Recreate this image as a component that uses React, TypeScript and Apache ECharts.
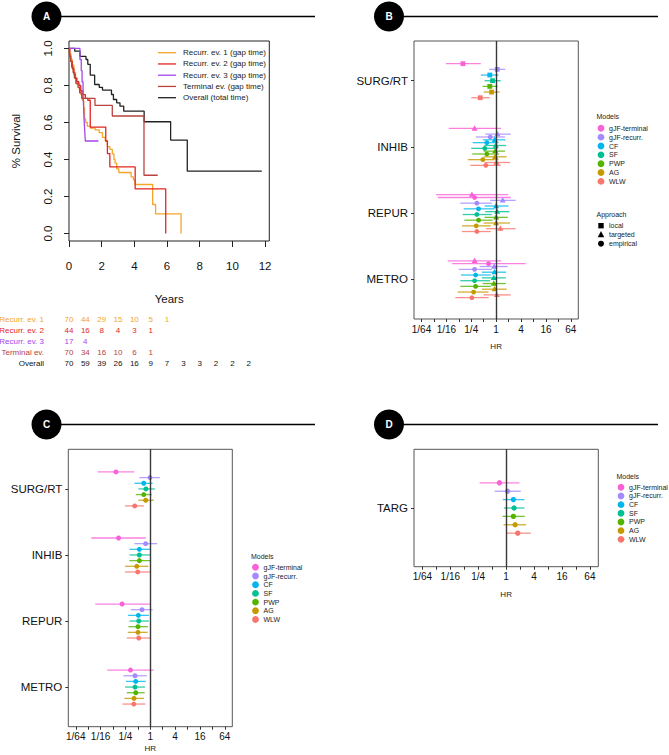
import React, { useEffect, useRef } from "react";
import * as echarts from "echarts";

const FONT = "'Liberation Sans', Arial, Helvetica, sans-serif";

// ---------- Panel A: Kaplan-Meier curves, [years, survival] ----------
const KM_RECURR1 = [[0,1],[0.05,0.97],[0.12,0.94],[0.2,0.91],[0.3,0.87],[0.4,0.84],[0.5,0.81],[0.62,0.78],[0.72,0.75],[0.82,0.72],[0.9,0.68],[0.95,0.62],[1.02,0.6],[1.12,0.58],[1.3,0.57],[1.6,0.56],[1.85,0.545],[2.05,0.52],[2.22,0.5],[2.35,0.47],[2.5,0.455],[2.65,0.43],[2.75,0.4],[2.82,0.38],[2.92,0.35],[3.05,0.33],[3.8,0.306],[3.94,0.29],[4.04,0.265],[5.12,0.157],[5.3,0.106],[6.86,0]];
const KM_RECURR2 = [[0,1],[0.05,0.955],[0.1,0.93],[0.2,0.89],[0.3,0.86],[0.38,0.84],[0.47,0.82],[0.6,0.8],[0.72,0.77],[0.85,0.75],[1.0,0.73],[1.15,0.72],[1.3,0.575],[2.25,0.5],[2.35,0.432],[2.5,0.36],[4.05,0.241],[5.92,0]];
const KM_RECURR3 = [[0,1],[0.67,0.94],[0.75,0.88],[0.8,0.82],[0.86,0.76],[0.89,0.69],[0.92,0.62],[0.96,0.56],[1.0,0.5],[1.8,0.5]];
const KM_TERMINAL = [[0,1],[0.04,0.96],[0.1,0.93],[0.16,0.9],[0.25,0.87],[0.33,0.84],[0.42,0.81],[0.55,0.79],[0.65,0.76],[0.78,0.73],[1.59,0.692],[2.65,0.635],[4.59,0.315],[5.43,0.315]];
const KM_OVERALL = [[0,1],[0.35,0.985],[0.67,0.957],[1.04,0.94],[1.15,0.914],[1.3,0.856],[1.57,0.805],[1.85,0.79],[2.05,0.775],[2.6,0.751],[2.72,0.724],[2.92,0.706],[3.12,0.688],[3.35,0.661],[4.6,0.604],[6.22,0.505],[7.24,0.337],[11.8,0.337]];
const KM_NAMES = ["Recurr. ev. 1 (gap time)", "Recurr. ev. 2 (gap time)", "Recurr. ev. 3 (gap time)", "Terminal ev. (gap time)", "Overall (total time)"];
const KM_COLORS = ["#F5A52A", "#E2261F", "#A646EA", "#B8433E", "#222222"];
const KM_X_TICKS = [0, 2, 4, 6, 8, 10, 12];
const KM_Y_TICKS = [0, 0.2, 0.4, 0.6, 0.8, 1.0];

// ---------- Numbers at risk ----------
const RISK_ROWS = ["Recurr. ev. 1", "Recurr. ev. 2", "Recurr. ev. 3", "Terminal ev.", "Overall"];
const RISK_RECURR1 = [70, 44, 29, 15, 10, 5, 1];
const RISK_RECURR2 = [44, 16, 8, 4, 3, 1];
const RISK_RECURR3 = [17, 4];
const RISK_TERMINAL = [70, 34, 16, 10, 6, 1];
const RISK_OVERALL = [70, 59, 39, 26, 16, 9, 7, 3, 3, 2, 2, 2];
const RISK_COLORS = ["#F5A52A", "#E2261F", "#A646EA", "#B8433E", "#111111"];

// ---------- Forest plots (HR, lower, upper) ----------
const MODELS = ["gJF-terminal", "gJF-recurr.", "CF", "SF", "PWP", "AG", "WLW"];
const MODEL_COLORS = ["#FB61D7", "#A58AFF", "#00B6EB", "#00C094", "#53B400", "#C49A00", "#F8766D"];
const APPROACHES = ["local", "targeted", "empirical"];
const HR_TICKS = [-6, -5, -4, -3, -2, -1, 0, 1, 2, 3, 4, 5, 6]; // log2 HR
const HR_LABEL_POS = [-6, -4, -2, 0, 2, 4, 6];
const HR_LABELS = ["1/64", "1/16", "1/4", "1", "4", "16", "64"];

const CATS_BC = ["SURG/RT", "INHIB", "REPUR", "METRO"];
const CATS_D = ["TARG"];

type CI = [number, number, number] | null;

const B_SURG_LOCAL: CI[] = [[0.157,0.061,0.426],[1.06,0.678,1.65],[0.702,0.426,1.14],[0.818,0.525,1.29],[0.702,0.47,1.09],[0.774,0.497,1.22],[0.412,0.25,0.693]];
const B_INHIB_TARGETED: CI[] = [[0.301,0.0713,1.32],[1.08,0.543,2.25],[0.927,0.476,1.68],[0.98,0.514,1.74],[0.946,0.497,1.65],[0.946,0.497,1.8],[1.02,0.525,2.17]];
const B_INHIB_EMPIRICAL: CI[] = [null,[0.717,0.323,1.65],[0.595,0.27,1.14],[0.532,0.25,1.09],[0.595,0.264,1.18],[0.476,0.207,1.14],[0.562,0.237,1.29]];
const B_REPUR_TARGETED: CI[] = [[0.259,0.0352,1.95],[1.44,0.717,2.97],[1.0,0.525,1.99],[1.06,0.543,2.1],[1.0,0.525,1.91],[1.0,0.497,2.17],[1.27,0.574,2.93]];
const B_REPUR_EMPIRICAL: CI[] = [[0.301,0.0387,2.25],[0.341,0.136,0.785],[0.376,0.164,0.914],[0.341,0.155,0.785],[0.376,0.17,0.818],[0.33,0.149,0.742],[0.341,0.149,0.742]];
const B_METRO_TARGETED: CI[] = [[0.301,0.0675,1.32],[0.895,0.398,1.91],[0.914,0.451,1.74],[0.877,0.451,1.71],[0.877,0.47,1.71],[0.914,0.451,1.8],[1.04,0.497,2.25]];
const B_METRO_EMPIRICAL: CI[] = [[0.655,0.0854,5.17],[0.301,0.124,0.785],[0.319,0.141,0.742],[0.301,0.136,0.717],[0.319,0.136,0.742],[0.285,0.117,0.655],[0.259,0.103,0.655]];

const C_SURG: CI[] = [[0.147,0.0529,0.412],[0.98,0.543,1.71],[0.693,0.412,1.14],[0.785,0.514,1.29],[0.693,0.444,1.08],[0.774,0.514,1.22],[0.42,0.245,0.702]];
const C_INHIB: CI[] = [[0.17,0.0372,0.774],[0.774,0.412,1.47],[0.543,0.312,0.98],[0.543,0.312,0.98],[0.543,0.312,1.0],[0.47,0.245,0.895],[0.497,0.245,1.0]];
const C_REPUR: CI[] = [[0.207,0.0464,0.98],[0.629,0.337,1.14],[0.514,0.289,0.927],[0.525,0.312,0.927],[0.503,0.295,0.877],[0.503,0.285,0.865],[0.525,0.27,1.0]];
const C_METRO: CI[] = [[0.33,0.0902,1.21],[0.426,0.224,0.818],[0.444,0.259,0.774],[0.426,0.245,0.742],[0.444,0.27,0.732],[0.403,0.237,0.702],[0.398,0.212,0.758]];

const D_TARG: CI[] = [[0.717,0.268,1.93],[1.07,0.563,2.07],[1.43,0.847,2.48],[1.48,0.889,2.48],[1.43,0.835,2.51],[1.56,0.877,2.69],[1.78,1.0,3.39]];

// category -> list of [approachIndex, rows]
const B_GROUPS: [number, CI[]][][] = [
  [[0, B_SURG_LOCAL]],
  [[1, B_INHIB_TARGETED], [2, B_INHIB_EMPIRICAL]],
  [[1, B_REPUR_TARGETED], [2, B_REPUR_EMPIRICAL]],
  [[1, B_METRO_TARGETED], [2, B_METRO_EMPIRICAL]],
];
const C_GROUPS: [number, CI[]][][] = [[[2, C_SURG]], [[2, C_INHIB]], [[2, C_REPUR]], [[2, C_METRO]]];
const D_GROUPS: [number, CI[]][][] = [[[2, D_TARG]]];

function buildForest(groups: [number, CI[]][][]) {
  const out: number[][] = [];
  groups.forEach((sets, cat) => {
    const n = MODELS.length * sets.length;
    let slot = 0;
    MODELS.forEach((_, m) => {
      sets.forEach(([a, rows]) => {
        const r = rows[m];
        const y = cat - 0.3 + ((slot + 0.5) * 0.6) / n;
        slot++;
        if (r) out.push([Math.log2(r[1]), Math.log2(r[2]), Math.log2(r[0]), y, m, a]);
      });
    });
  });
  return out;
}

function forestRender(r: number) {
  return (params: any, api: any) => {
    const y = api.value(3);
    const lo = api.coord([api.value(0), y]);
    const hi = api.coord([api.value(1), y]);
    const c = api.coord([api.value(2), y]);
    const col = MODEL_COLORS[api.value(4)];
    const a = api.value(5);
    let marker: any;
    if (a === 0) {
      marker = { type: "rect", shape: { x: c[0] - r, y: c[1] - r, width: 2 * r, height: 2 * r }, style: { fill: col } };
    } else if (a === 1) {
      marker = { type: "polygon", shape: { points: [[c[0], c[1] - r * 1.35], [c[0] - r * 1.25, c[1] + r * 0.9], [c[0] + r * 1.25, c[1] + r * 0.9]] }, style: { fill: col } };
    } else {
      marker = { type: "circle", shape: { cx: c[0], cy: c[1], r }, style: { fill: col } };
    }
    return {
      type: "group",
      children: [
        { type: "line", shape: { x1: lo[0], y1: lo[1], x2: hi[0], y2: hi[1] }, style: { stroke: col, lineWidth: 1.3, opacity: 0.8 } },
        marker,
      ],
    };
  };
}

function hrXAxis(gridIndex: number, nameGap: number) {
  return {
    type: "value", gridIndex, min: -6.6, max: 6.6,
    axisLine: { show: false, onZero: false },
    splitLine: { show: false },
    axisTick: { show: true, customValues: HR_TICKS, length: 3, lineStyle: { color: "#333", width: 1 } },
    axisLabel: {
      customValues: HR_LABEL_POS, fontSize: 10, margin: 5, color: "#111", fontFamily: FONT,
      formatter: (v: number) => HR_LABELS[HR_LABEL_POS.indexOf(Math.round(v))] ?? "",
    },
    name: "HR", nameLocation: "middle", nameGap,
    nameTextStyle: { fontSize: 8, color: "#222", fontFamily: FONT },
  };
}

function catYAxis(gridIndex: number, cats: string[]) {
  const pos = cats.map((_, i) => i);
  return {
    type: "value", gridIndex, min: -0.6, max: cats.length - 0.4, inverse: true,
    axisLine: { show: false, onZero: false },
    splitLine: { show: false },
    axisTick: { show: true, customValues: pos, length: 3, lineStyle: { color: "#333", width: 1 } },
    axisLabel: {
      customValues: pos, fontSize: 11.5, margin: 6, color: "#111", fontFamily: FONT,
      formatter: (v: number) => cats[Math.round(v)] ?? "",
    },
  };
}

function forestSeries(idx: number, groups: [number, CI[]][][], r: number) {
  return {
    type: "custom", xAxisIndex: idx, yAxisIndex: idx,
    data: buildForest(groups),
    encode: { x: [0, 1, 2], y: 3 },
    renderItem: forestRender(r),
    silent: true,
    markLine: {
      silent: true, symbol: "none", label: { show: false },
      lineStyle: { color: "#222", width: 1.4, type: "solid", opacity: 0.9 },
      data: [{ xAxis: 0 }],
    },
  };
}

function badge(cx: number, cy: number, letter: string, x2: number) {
  return [
    { type: "line", shape: { x1: cx + 14, y1: cy, x2, y2: cy }, style: { stroke: "#000", lineWidth: 1.3 } },
    { type: "circle", shape: { cx, cy, r: 15 }, style: { fill: "#000" } },
    { type: "text", x: cx, y: cy, style: { text: letter, fill: "#fff", font: `bold 10px ${FONT}`, align: "center", verticalAlign: "middle", textAlign: "center", textVerticalAlign: "middle" } },
  ];
}

function modelsLegend(x: number, titleY: number, firstY: number, step: number) {
  const els: any[] = [
    { type: "text", x, y: titleY, style: { text: "Models", fill: "#222", font: `7px ${FONT}`, verticalAlign: "middle", textVerticalAlign: "middle" } },
  ];
  MODELS.forEach((m, i) => {
    els.push({ type: "circle", shape: { cx: x + 4.5, cy: firstY + i * step, r: 3.4 }, style: { fill: MODEL_COLORS[i] } });
    els.push({ type: "text", x: x + 12.5, y: firstY + i * step, style: { text: m, fill: "#222", font: `7px ${FONT}`, verticalAlign: "middle", textVerticalAlign: "middle" } });
  });
  return els;
}

function buildOption() {
  const kmSets = [KM_RECURR1, KM_RECURR2, KM_RECURR3, KM_TERMINAL, KM_OVERALL];
  const riskSets = [RISK_RECURR1, RISK_RECURR2, RISK_RECURR3, RISK_TERMINAL, RISK_OVERALL];
  const riskData: number[][] = [];
  riskSets.forEach((arr, row) => arr.forEach((n, t) => riskData.push([t, row, n, row])));

  const graphics: any[] = [
    ...badge(46.5, 16.5, "A", 315),
    ...badge(389, 16.5, "B", 658),
    ...badge(46.5, 424.5, "C", 315),
    ...badge(389, 424.5, "D", 658),
  ];
  KM_NAMES.forEach((nm, i) => {
    const y = 52.7 + i * 11.25;
    graphics.push({ type: "line", shape: { x1: 158, y1: y, x2: 176, y2: y }, style: { stroke: KM_COLORS[i], lineWidth: 1.3 } });
    graphics.push({ type: "text", x: 183, y, style: { text: nm, fill: "#222", font: `8px ${FONT}`, verticalAlign: "middle", textVerticalAlign: "middle" } });
  });
  graphics.push(...modelsLegend(596.5, 116.7, 128.3, 8.85));
  graphics.push(...modelsLegend(251, 556, 567.3, 8.7));
  graphics.push(...modelsLegend(616.5, 476, 487.3, 8.67));
  // Approach legend (panel B)
  const ax = 596.5;
  graphics.push({ type: "text", x: ax, y: 214.7, style: { text: "Approach", fill: "#222", font: `7px ${FONT}`, verticalAlign: "middle", textVerticalAlign: "middle" } });
  graphics.push({ type: "rect", shape: { x: ax + 1.8, y: 225.7 - 2.7, width: 5.4, height: 5.4 }, style: { fill: "#000" } });
  graphics.push({ type: "polygon", shape: { points: [[ax + 4.5, 234.7 - 3.6], [ax + 1.2, 234.7 + 2.5], [ax + 7.8, 234.7 + 2.5]] }, style: { fill: "#000" } });
  graphics.push({ type: "circle", shape: { cx: ax + 4.5, cy: 243.7, r: 3 }, style: { fill: "#000" } });
  APPROACHES.forEach((a, i) => {
    graphics.push({ type: "text", x: ax + 12.5, y: 225.7 + i * 9, style: { text: a, fill: "#222", font: `7px ${FONT}`, verticalAlign: "middle", textVerticalAlign: "middle" } });
  });

  return {
    animation: false,
    backgroundColor: "#fff",
    textStyle: { fontFamily: FONT },
    grid: [
      { left: 69, top: 41, width: 200.3, height: 200, show: true, borderColor: "#222", borderWidth: 1, outerBoundsMode: "none" },
      { left: 69, top: 313.5, width: 200.3, height: 55, show: false, outerBoundsMode: "none" },
      { left: 414, top: 41, width: 164.3, height: 278, show: true, borderColor: "#555", borderWidth: 1, outerBoundsMode: "none" },
      { left: 68.3, top: 449.3, width: 164, height: 277.4, show: true, borderColor: "#555", borderWidth: 1, outerBoundsMode: "none" },
      { left: 414, top: 449.3, width: 184.3, height: 117.4, show: true, borderColor: "#555", borderWidth: 1, outerBoundsMode: "none" },
    ],
    xAxis: [
      {
        type: "value", gridIndex: 0, min: 0, max: 12.26,
        axisLine: { show: false, onZero: false }, splitLine: { show: false },
        axisTick: { show: true, customValues: KM_X_TICKS, length: 6, lineStyle: { color: "#222" } },
        axisLabel: { customValues: KM_X_TICKS, fontSize: 11.5, margin: 19, color: "#111", fontFamily: FONT },
        name: "Years", nameLocation: "middle", nameGap: 52,
        nameTextStyle: { fontSize: 11.5, color: "#111", fontFamily: FONT },
      },
      { type: "value", gridIndex: 1, min: 0, max: 12.26, show: false },
      hrXAxis(2, 23.5),
      hrXAxis(3, 18),
      hrXAxis(4, 24),
    ],
    yAxis: [
      {
        type: "value", gridIndex: 0, min: -0.04, max: 1.04,
        axisLine: { show: false, onZero: false }, splitLine: { show: false },
        axisTick: { show: true, customValues: KM_Y_TICKS, length: 5, lineStyle: { color: "#222" } },
        axisLabel: { customValues: KM_Y_TICKS, rotate: 90, fontSize: 11.5, margin: 15, color: "#111", fontFamily: FONT, formatter: (v: number) => v.toFixed(1) },
        name: "% Survival", nameLocation: "middle", nameGap: 47, nameRotate: 90,
        nameTextStyle: { fontSize: 11.5, color: "#111", fontFamily: FONT },
      },
      {
        type: "category", gridIndex: 1, data: RISK_ROWS, inverse: true,
        axisLine: { show: false }, axisTick: { show: false }, splitLine: { show: false },
        axisLabel: { fontSize: 8, margin: 25, fontFamily: FONT, color: (_v: any, i: number) => RISK_COLORS[i] },
      },
      catYAxis(2, CATS_BC),
      catYAxis(3, CATS_BC),
      catYAxis(4, CATS_D),
    ],
    series: [
      ...kmSets.map((d, i) => ({
        type: "line", name: KM_NAMES[i], xAxisIndex: 0, yAxisIndex: 0, data: d,
        step: "end", symbol: "none", silent: true,
        lineStyle: { color: KM_COLORS[i], width: 1.3 },
        itemStyle: { color: KM_COLORS[i] },
        z: i === 4 ? 1 : 2,
      })),
      {
        type: "custom", xAxisIndex: 1, yAxisIndex: 1, data: riskData, encode: { x: 0, y: 1 }, silent: true,
        renderItem: (params: any, api: any) => {
          const p = api.coord([api.value(0), api.value(1)]);
          return {
            type: "text", x: p[0], y: p[1],
            style: { text: String(api.value(2)), fill: RISK_COLORS[api.value(3)], font: `8px ${FONT}`, align: "center", verticalAlign: "middle", textAlign: "center", textVerticalAlign: "middle" },
          };
        },
      },
      forestSeries(2, B_GROUPS, 2.4),
      forestSeries(3, C_GROUPS, 2.5),
      forestSeries(4, D_GROUPS, 2.7),
    ],
    graphic: { elements: graphics },
  };
}

export default function App() {
  const ref = useRef<HTMLDivElement>(null);
  useEffect(() => {
    const chart = echarts.init(ref.current!, null, { renderer: "svg" });
    chart.setOption(buildOption() as any);
    return () => chart.dispose();
  }, []);
  return <div ref={ref} style={{ position: "absolute", left: 0, top: 0, width: 669, height: 755 }} />;
}
